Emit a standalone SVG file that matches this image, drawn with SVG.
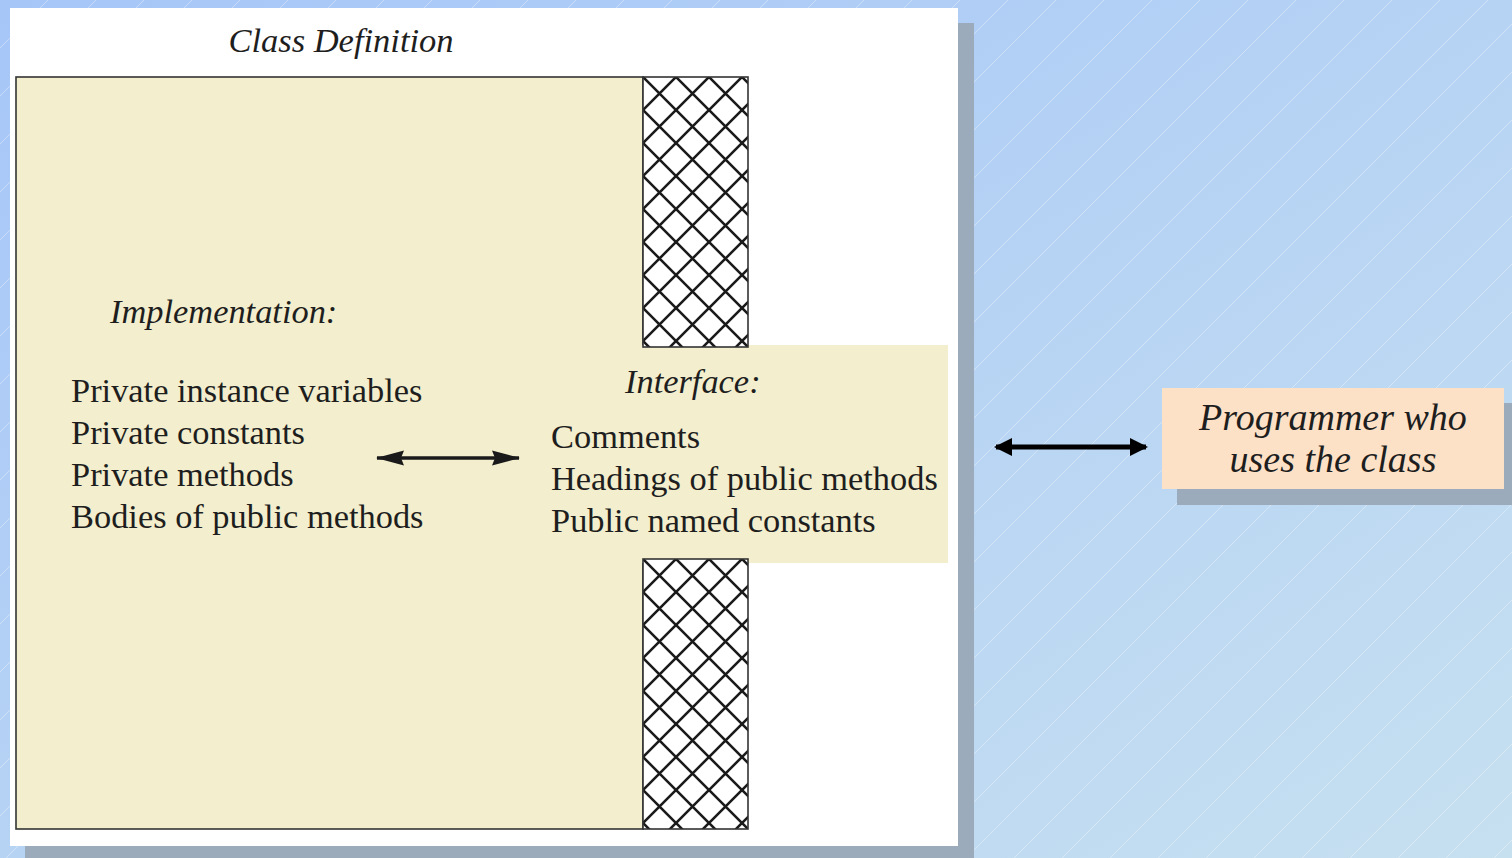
<svg xmlns="http://www.w3.org/2000/svg" width="1512" height="858" viewBox="0 0 1512 858">
  <defs>
    <linearGradient id="bg" x1="0" y1="0" x2="1" y2="1">
      <stop offset="0" stop-color="#a6c6f8"/>
      <stop offset="1" stop-color="#c6e0f0"/>
    </linearGradient>
    <pattern id="diag" patternUnits="userSpaceOnUse" width="48" height="48">
      <path d="M0,48 L48,0 M-24,24 L24,-24 M24,72 L72,24" stroke="#ffffff" stroke-opacity="0.45" stroke-width="0.8" fill="none"/>
    </pattern>
    <pattern id="hatch" patternUnits="userSpaceOnUse" x="643" y="77" width="33" height="33">
      <rect width="33" height="33" fill="#ffffff"/>
      <path d="M-3,-3 L36,36 M36,-3 L-3,36" stroke="#1a1a1a" stroke-width="2.6" fill="none"/>
    </pattern>
    <pattern id="hatch2" patternUnits="userSpaceOnUse" x="643" y="559" width="33" height="33">
      <rect width="33" height="33" fill="#ffffff"/>
      <path d="M-3,-3 L36,36 M36,-3 L-3,36" stroke="#1a1a1a" stroke-width="2.6" fill="none"/>
    </pattern>
    <marker id="headS" viewBox="0 0 28 16" refX="27" refY="8" markerWidth="28" markerHeight="16" markerUnits="userSpaceOnUse" orient="auto-start-reverse">
      <path d="M0,0.5 L28,8 L0,15.5 L3,8 Z" fill="#1a1a1a"/>
    </marker>
    <marker id="headL" viewBox="0 0 18 18" refX="16" refY="9" markerWidth="18" markerHeight="18" markerUnits="userSpaceOnUse" orient="auto-start-reverse">
      <path d="M0,0 L18,9 L0,18 Z" fill="#000000"/>
    </marker>
    <style>
      .serif { font-family: "Liberation Serif", "Times New Roman", serif; fill: #1e1e1e; }
      .it { font-style: italic; }
      .body { font-size: 34.4px; }
      .beige { fill: #f3eecd; }
      .shadow { fill: #9babbb; }
    </style>
  </defs>

  <rect width="1512" height="858" fill="url(#bg)"/>
  <rect width="1512" height="858" fill="url(#diag)"/>

  <g id="panel">
    <rect class="shadow" x="25" y="23" width="949" height="835"/>
    <rect x="10" y="8" width="948" height="838" fill="#ffffff"/>
    <text class="serif it" x="341" y="52" font-size="34.5" text-anchor="middle">Class Definition</text>
  </g>

  <g id="implementation">
    <rect class="beige" x="16" y="77" width="627" height="752" stroke="#333333" stroke-width="1.6"/>
    <text class="serif it body" x="110" y="323">Implementation:</text>
    <text class="serif body" x="71" y="402">Private instance variables</text>
    <text class="serif body" x="71" y="444">Private constants</text>
    <text class="serif body" x="71" y="486">Private methods</text>
    <text class="serif body" x="71" y="528">Bodies of public methods</text>
  </g>

  <g id="interface">
    <rect class="beige" x="641" y="345" width="307" height="218"/>
    <text class="serif it body" x="625" y="393">Interface:</text>
    <text class="serif body" x="551" y="448">Comments</text>
    <text class="serif body" x="551" y="490">Headings of public methods</text>
    <text class="serif body" x="551" y="532">Public named constants</text>
  </g>

  <g id="hatch-top">
    <rect x="643" y="77" width="105" height="270" fill="url(#hatch)" stroke="#333333" stroke-width="1.6"/>
  </g>
  <g id="hatch-bottom">
    <rect x="643" y="559" width="105" height="270" fill="url(#hatch2)" stroke="#333333" stroke-width="1.6"/>
  </g>

  <g id="programmer">
    <rect class="shadow" x="1177" y="403" width="335" height="102"/>
    <rect x="1162" y="388" width="342" height="101" fill="#fde1c6"/>
    <text class="serif it" x="1333" y="430" font-size="38" text-anchor="middle" fill="#000">Programmer who</text>
    <text class="serif it" x="1333" y="472" font-size="38" text-anchor="middle" fill="#000">uses the class</text>
  </g>

  <g id="connectors">
    <line x1="377" y1="458" x2="519" y2="458" stroke="#1a1a1a" stroke-width="3.5" marker-start="url(#headS)" marker-end="url(#headS)"/>
    <line x1="996" y1="447" x2="1146" y2="447" stroke="#000000" stroke-width="5" marker-start="url(#headL)" marker-end="url(#headL)"/>
  </g>
</svg>
